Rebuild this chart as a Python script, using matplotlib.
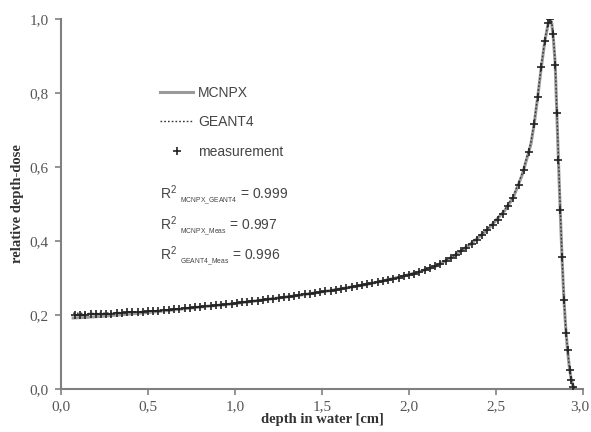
import matplotlib
matplotlib.use("Agg")
import matplotlib.pyplot as plt
import matplotlib.transforms as mtransforms
from matplotlib.ticker import FuncFormatter

# measurement (+ markers)
meas_depth = [0.08, 0.11, 0.14, 0.17, 0.20, 0.23, 0.26, 0.29, 0.32, 0.35,
              0.38, 0.41, 0.44, 0.47, 0.50, 0.53, 0.56, 0.59, 0.62, 0.65,
              0.68, 0.71, 0.74, 0.77, 0.80, 0.83, 0.86, 0.89, 0.92, 0.95,
              0.98, 1.01, 1.04, 1.07, 1.10, 1.13, 1.16, 1.19, 1.22, 1.25,
              1.28, 1.31, 1.34, 1.37, 1.40, 1.43, 1.46, 1.49, 1.52, 1.55,
              1.58, 1.61, 1.64, 1.67, 1.70, 1.73, 1.76, 1.79, 1.82, 1.85,
              1.88, 1.91, 1.94, 1.97, 2.00, 2.03, 2.06, 2.09, 2.12, 2.15,
              2.18, 2.21, 2.24, 2.27, 2.30, 2.33, 2.36, 2.39, 2.42, 2.45,
              2.48, 2.51, 2.54, 2.57, 2.60, 2.63, 2.66, 2.69, 2.72, 2.74,
              2.76, 2.78, 2.80, 2.81, 2.825, 2.840, 2.848, 2.856, 2.870, 2.880,
              2.888, 2.903, 2.913, 2.923, 2.933, 2.944]
meas_dose = [0.200, 0.201, 0.201, 0.202, 0.202, 0.203, 0.203, 0.204, 0.205, 0.206,
             0.207, 0.207, 0.208, 0.209, 0.210, 0.211, 0.212, 0.213, 0.214, 0.216,
             0.217, 0.218, 0.220, 0.221, 0.222, 0.224, 0.225, 0.227, 0.228, 0.229,
             0.231, 0.233, 0.234, 0.236, 0.237, 0.239, 0.241, 0.243, 0.244, 0.246,
             0.248, 0.250, 0.252, 0.254, 0.256, 0.258, 0.260, 0.262, 0.264, 0.266,
             0.268, 0.271, 0.273, 0.276, 0.278, 0.281, 0.283, 0.286, 0.289, 0.292,
             0.295, 0.298, 0.301, 0.305, 0.308, 0.312, 0.316, 0.321, 0.326, 0.332,
             0.338, 0.345, 0.353, 0.362, 0.372, 0.382, 0.393, 0.404, 0.416, 0.429,
             0.443, 0.457, 0.474, 0.494, 0.517, 0.550, 0.592, 0.640, 0.715, 0.790,
             0.870, 0.940, 0.990, 1.000, 0.960, 0.876, 0.746, 0.619, 0.484, 0.357,
             0.240, 0.151, 0.105, 0.051, 0.024, 0.006]

# simulations
sim_depth = [0.07, 0.15, 0.25, 0.35, 0.45, 0.55, 0.65, 0.75, 0.85, 0.95,
             1.05, 1.15, 1.25, 1.35, 1.45, 1.55, 1.65, 1.75, 1.85, 1.95,
             2.05, 2.15, 2.25, 2.35, 2.45, 2.55, 2.60, 2.65, 2.70, 2.72,
             2.74, 2.76, 2.78, 2.80, 2.81, 2.82, 2.83, 2.84, 2.85, 2.86,
             2.87, 2.88, 2.89, 2.90, 2.91, 2.92, 2.93, 2.94, 2.95, 2.96]
mcnpx_dose = [0.192, 0.194, 0.197, 0.201, 0.205, 0.209, 0.214, 0.219, 0.224, 0.228,
              0.234, 0.240, 0.246, 0.252, 0.259, 0.266, 0.274, 0.282, 0.292, 0.303,
              0.315, 0.331, 0.357, 0.390, 0.430, 0.482, 0.518, 0.578, 0.660, 0.718,
              0.790, 0.868, 0.938, 0.988, 1.000, 0.990, 0.945, 0.880, 0.740, 0.600,
              0.470, 0.350, 0.245, 0.170, 0.110, 0.065, 0.032, 0.012, 0.003, 0.000]
geant4_dose = [0.205, 0.204, 0.205, 0.207, 0.209, 0.212, 0.215, 0.220, 0.225, 0.230,
               0.235, 0.241, 0.247, 0.253, 0.260, 0.267, 0.275, 0.283, 0.293, 0.304,
               0.316, 0.333, 0.358, 0.392, 0.432, 0.484, 0.522, 0.582, 0.665, 0.722,
               0.795, 0.872, 0.942, 0.990, 1.000, 0.992, 0.950, 0.885, 0.748, 0.610,
               0.478, 0.355, 0.250, 0.172, 0.112, 0.066, 0.033, 0.013, 0.004, 0.000]

r2_labels = ["MCNPX\\_GEANT4", "MCNPX\\_Meas", "GEANT4\\_Meas"]
r2_values = ["0.999", "0.997", "0.996"]

plt.rcParams["mathtext.fontset"] = "custom"
plt.rcParams["mathtext.rm"] = "Liberation Sans"
plt.rcParams["mathtext.it"] = "Liberation Sans"

fig = plt.figure(figsize=(5.91, 4.32), dpi=100)
ax = fig.add_axes([61 / 591, 43 / 432, 522 / 591, 370 / 432])

ax.plot(sim_depth, mcnpx_dose, color="#9a9a9a", lw=2.2, label="MCNPX", zorder=2)
ax.plot(sim_depth, geant4_dose, color="#333333", lw=1.0, ls=(0, (1.2, 1.5)),
        label="GEANT4", zorder=3)
ax.plot(meas_depth, meas_dose, ls="none", marker="+", ms=6, mew=1.2,
        color="#222222", label="measurement", zorder=4)

ax.set_xlim(0, 3.0)
ax.set_ylim(0, 1.0)
ax.set_xticks([0, 0.5, 1.0, 1.5, 2.0, 2.5, 3.0])
ax.set_yticks([0, 0.2, 0.4, 0.6, 0.8, 1.0])
comma = FuncFormatter(lambda v, p: f"{v:.1f}".replace(".", ","))
ax.xaxis.set_major_formatter(comma)
ax.yaxis.set_major_formatter(comma)

for s in ["top", "right"]:
    ax.spines[s].set_visible(False)
for s in ["left", "bottom"]:
    ax.spines[s].set_color("#808080")
    ax.spines[s].set_linewidth(1.5)
ax.tick_params(direction="out", length=4, width=1.2, color="#808080",
               labelsize=11, labelcolor="#555555", pad=5)
ax.tick_params(axis="x", pad=4)
for lab in ax.get_xticklabels() + ax.get_yticklabels():
    lab.set_family("Liberation Serif")

# keep the last x label inside the canvas
last = ax.get_xticklabels()[-1]
last.set_transform(last.get_transform() +
                   mtransforms.ScaledTranslation(-3 / 100, 0, fig.dpi_scale_trans))

ax.set_xlabel("depth in water [cm]", family="Liberation Serif", fontsize=10.5,
              fontweight="bold", color="#333333", labelpad=0)
ax.set_ylabel("relative depth-dose", family="Liberation Serif", fontsize=10.5,
              fontweight="bold", color="#333333", labelpad=4)

leg = ax.legend(loc="upper left", bbox_to_anchor=(160 / 591, 1 - 86 / 432),
                bbox_transform=fig.transFigure, frameon=False,
                prop={"family": "Liberation Sans", "size": 10},
                handlelength=2.4, handletextpad=0.35, labelspacing=1.1,
                borderpad=0, borderaxespad=0)
for t in leg.get_texts():
    t.set_color("#444444")

for i, (name, val) in enumerate(zip(r2_labels, r2_values)):
    fig.text(160 / 591, 1 - (196 + 30.5 * i) / 432,
             r"R$^{2}$ $_{_{\mathregular{%s}}}$ = %s" % (name, val),
             family="Liberation Sans", fontsize=10, color="#444444", va="center")

fig.savefig("out.png", dpi=100)
